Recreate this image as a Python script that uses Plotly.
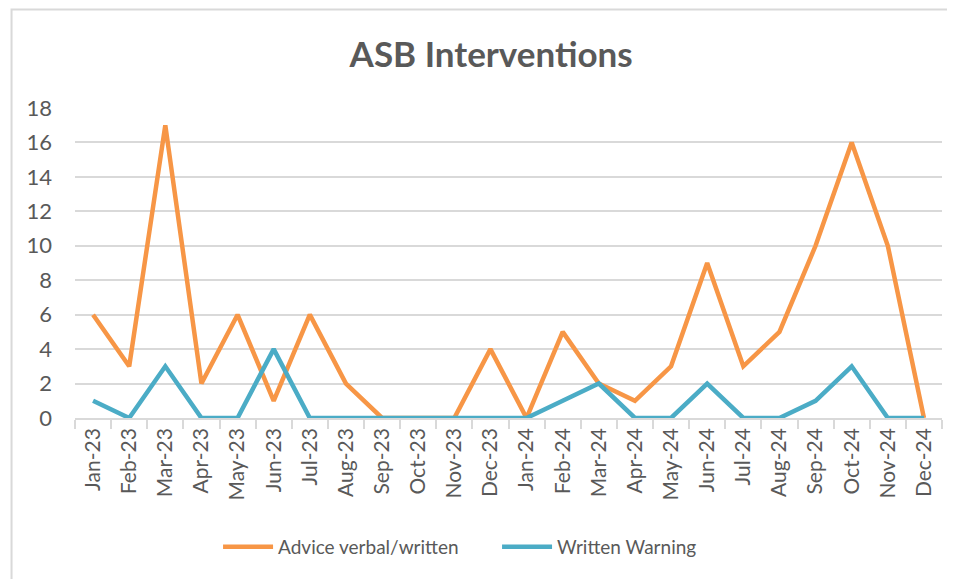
import plotly.graph_objects as go

months = ["Jan-23", "Feb-23", "Mar-23", "Apr-23", "May-23", "Jun-23", "Jul-23", "Aug-23",
          "Sep-23", "Oct-23", "Nov-23", "Dec-23", "Jan-24", "Feb-24", "Mar-24", "Apr-24",
          "May-24", "Jun-24", "Jul-24", "Aug-24", "Sep-24", "Oct-24", "Nov-24", "Dec-24"]
advice = [6, 3, 17, 2, 6, 1, 6, 2, 0, 0, 0, 4, 0, 5, 2, 1, 3, 9, 3, 5, 10, 16, 10, 0]
warning = [1, 0, 3, 0, 0, 4, 0, 0, 0, 0, 0, 0, 0, 1, 2, 0, 0, 2, 0, 0, 1, 3, 0, 0]
y_ticks = [0, 2, 4, 6, 8, 10, 12, 14, 16, 18]

FONT = "Lato, 'Open Sans', sans-serif"
GREY = "#595959"

fig = go.Figure()
fig.add_trace(go.Scatter(x=months, y=advice, mode="lines", name="Advice verbal/written",
                         line=dict(color="#F79646", width=4.5)))
fig.add_trace(go.Scatter(x=months, y=warning, mode="lines", name="Written Warning",
                         line=dict(color="#4BACC6", width=4.5)))

fig.update_layout(
    width=947, height=571,
    paper_bgcolor="white", plot_bgcolor="white",
    margin=dict(l=67, r=13, t=100, b=161),
    title=dict(text="<b>ASB Interventions</b>", x=0.48, xref="paper", xanchor="center",
               y=0.918, yanchor="middle",
               font=dict(family=FONT, size=35, color=GREY)),
    font=dict(family=FONT, color=GREY),
    showlegend=True,
    legend=dict(orientation="h", x=0.165, xanchor="left", y=-0.416, yanchor="middle",
                font=dict(family=FONT, size=19, color=GREY),
                itemwidth=50, entrywidth=214, entrywidthmode="pixels"),
    shapes=[dict(type="rect", xref="paper", yref="paper", x0=-0.0732, x1=1.05, y0=-0.6, y1=1.318,
                 line=dict(color="#d9d9d9", width=2), fillcolor="rgba(0,0,0,0)")],
)
fig.update_xaxes(type="category", tickangle=-90, tickson="boundaries", ticks="outside", ticklen=9,
                 tickcolor="#d9d9d9", tickwidth=1.5, showgrid=False, showline=True,
                 linecolor="#d9d9d9", linewidth=1.5,
                 tickfont=dict(family=FONT, size=21, color=GREY), range=[-0.5, 23.5])
fig.update_yaxes(range=[0, 18], tickvals=y_ticks, showgrid=True, gridcolor="#d9d9d9", gridwidth=1.5,
                 zeroline=False, showline=False, ticks="", ticklabelstandoff=22,
                 tickfont=dict(family=FONT, size=22, color=GREY))

fig.write_html("out.html")
